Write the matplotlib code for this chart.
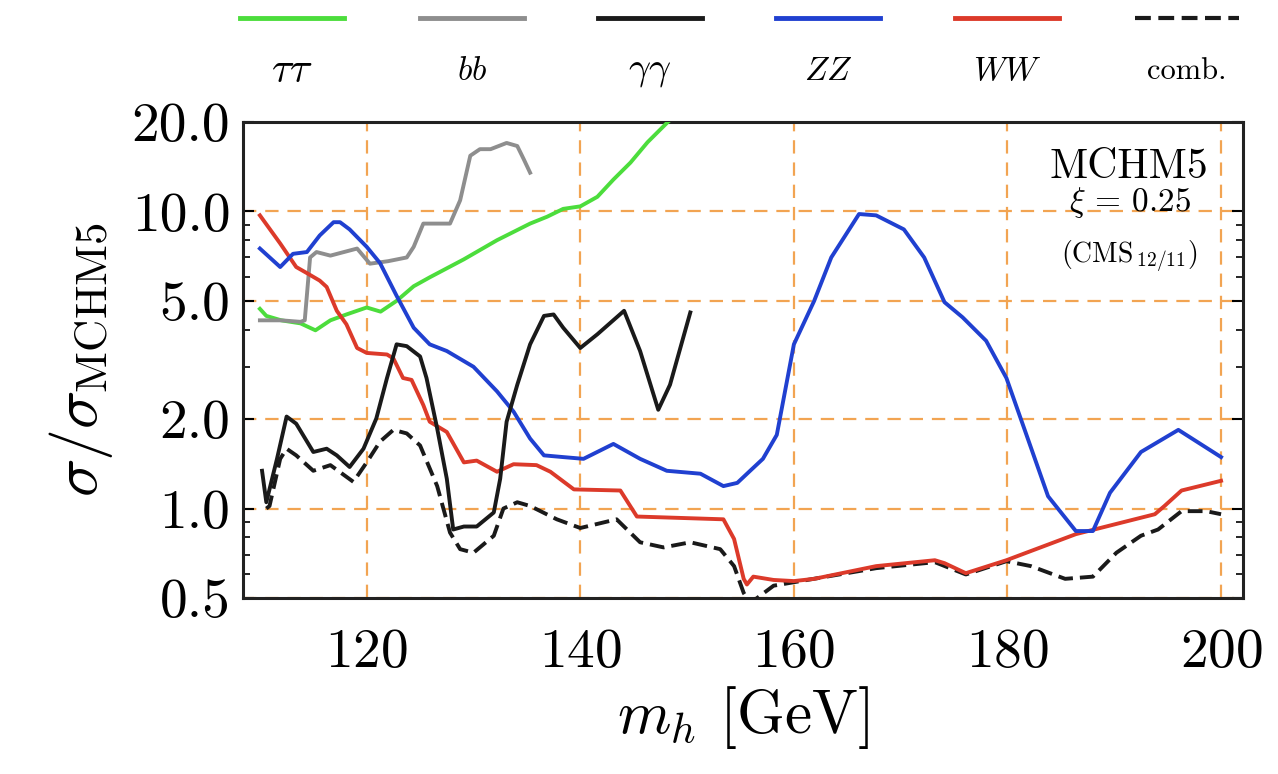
import numpy as np
import matplotlib.pyplot as plt
from matplotlib.lines import Line2D
from matplotlib.ticker import FixedLocator, LogLocator, FormatStrFormatter, NullFormatter

plt.rcParams['font.family'] = 'serif'
plt.rcParams['font.serif'] = ['cmr10', 'DejaVu Serif']
plt.rcParams['mathtext.fontset'] = 'cm'
plt.rcParams['axes.formatter.use_mathtext'] = True
plt.rcParams['lines.solid_joinstyle'] = 'round'

# values (m_h in GeV, ratio sigma/sigma_MCHM5)
tautau_m = [110.0, 110.6, 112.0, 113.8, 115.2, 116.6, 118.1, 120.0, 121.3, 122.8, 124.4, 125.9,
            129.1, 132.2, 135.3, 136.9, 138.4, 140.0, 141.6, 143.1, 144.7, 146.3, 148.2, 149.5]
tautau_r = [4.70, 4.45, 4.30, 4.20, 3.98, 4.30, 4.50, 4.75, 4.60, 5.00, 5.60, 6.00,
            6.90, 8.00, 9.10, 9.60, 10.2, 10.4, 11.2, 12.8, 14.6, 17.1, 20.0, 22.0]

bb_m = [110.0, 112.0, 113.8, 114.2, 114.7, 115.3, 116.6, 119.1, 120.3, 122.0, 123.75,
        124.4, 125.3, 127.8, 128.75, 129.7, 130.6, 131.6, 133.1, 134.1, 134.7, 135.3]
bb_r = [4.30, 4.30, 4.25, 4.30, 7.0, 7.3, 7.1, 7.5, 6.67, 6.8, 7.0,
        7.6, 9.1, 9.1, 10.9, 15.4, 16.2, 16.2, 17.0, 16.6, 15.0, 13.5]

aa_m = [110.2, 110.6, 111.6, 112.5, 113.4, 115.0, 116.25, 117.2, 118.4, 119.7, 120.9, 121.9,
        122.8, 123.75, 125.0, 125.6, 126.6, 127.5, 128.1, 129.1, 130.3, 131.9, 132.5, 133.1,
        134.1, 135.3, 136.6, 137.5, 138.4, 140.0, 141.6, 144.1, 145.6, 147.3, 148.4, 150.3]
aa_r = [1.34, 1.05, 1.47, 2.04, 1.93, 1.55, 1.59, 1.51, 1.38, 1.59, 2.01, 2.75,
        3.57, 3.52, 3.25, 2.75, 1.86, 1.26, 0.85, 0.87, 0.87, 0.97, 1.26, 1.96,
        2.61, 3.57, 4.45, 4.50, 4.06, 3.47, 3.86, 4.63, 3.39, 2.15, 2.61, 4.57]

zz_m = [110.0, 111.9, 113.1, 114.4, 115.6, 116.9, 117.5, 118.4, 120.0, 121.25, 122.8, 124.4,
        125.9, 127.5, 130.0, 132.2, 133.75, 135.3, 136.6, 138.4, 140.3, 143.1, 145.6, 148.1,
        151.25, 153.4, 154.7, 156.0, 157.1, 158.4, 160.0, 161.9, 163.5, 166.1, 167.7, 170.3,
        172.2, 174.1, 175.8, 178.0, 179.9, 181.9, 183.8, 186.4, 188.0, 189.6, 192.5, 196.0, 200.0]
zz_r = [7.5, 6.5, 7.2, 7.3, 8.3, 9.2, 9.2, 8.7, 7.6, 6.7, 5.2, 4.06,
        3.57, 3.39, 3.0, 2.48, 2.12, 1.72, 1.51, 1.49, 1.47, 1.65, 1.47, 1.34,
        1.31, 1.19, 1.22, 1.35, 1.47, 1.77, 3.57, 5.0, 7.0, 9.8, 9.7, 8.7,
        7.0, 4.95, 4.4, 3.67, 2.75, 1.72, 1.10, 0.84, 0.84, 1.13, 1.55, 1.84, 1.49]

ww_m = [110.0, 111.9, 113.4, 114.4, 115.6, 116.25, 117.2, 118.1, 119.1, 120.0, 121.9, 122.5,
        123.4, 124.2, 125.3, 125.9, 127.5, 129.1, 130.3, 132.2, 133.75, 135.9, 137.2, 139.4,
        143.75, 145.3, 153.4, 154.4, 155.3, 155.6, 156.2, 158.1, 160.0, 161.9, 167.7, 173.2,
        174.1, 176.1, 179.9, 186.4, 193.8, 194.7, 196.3, 200.0]
ww_r = [9.7, 7.8, 6.5, 6.2, 5.85, 5.57, 4.63, 4.17, 3.47, 3.34, 3.30, 3.2,
        2.75, 2.71, 2.23, 1.96, 1.81, 1.43, 1.45, 1.33, 1.41, 1.40, 1.33, 1.16,
        1.15, 0.94, 0.92, 0.79, 0.58, 0.555, 0.59, 0.575, 0.57, 0.58, 0.64, 0.67,
        0.655, 0.606, 0.67, 0.82, 0.957, 1.02, 1.15, 1.24]

comb_m = [110.6, 110.9, 111.9, 112.5, 113.4, 115.0, 116.6, 118.75, 120.0, 121.25, 122.5, 123.75,
          125.0, 126.6, 127.8, 128.75, 130.0, 131.9, 132.8, 134.1, 135.3, 137.8, 140.0, 143.4,
          145.6, 147.8, 150.3, 153.1, 154.4, 155.3, 155.9, 158.1, 160.0, 167.7, 173.2, 176.1,
          179.9, 182.2, 185.4, 188.0, 190.2, 192.5, 194.1, 196.3, 198.6, 200.0]
comb_r = [1.0, 1.02, 1.47, 1.59, 1.51, 1.34, 1.40, 1.23, 1.43, 1.68, 1.84, 1.79,
          1.63, 1.19, 0.83, 0.73, 0.71, 0.81, 1.0, 1.05, 1.02, 0.92, 0.86, 0.92,
          0.77, 0.74, 0.77, 0.73, 0.64, 0.52, 0.48, 0.55, 0.565, 0.63, 0.66, 0.60,
          0.665, 0.64, 0.58, 0.59, 0.71, 0.81, 0.85, 0.98, 0.98, 0.957]

labels = [r'$\tau\tau$', r'$bb$', r'$\gamma\gamma$', r'$ZZ$', r'$WW$', 'comb.']
label_sizes = [30, 24, 28, 24, 24, 22]
colors = ['#4cdd3c', '#8e8e8e', '#1a1a1a', '#2040d0', '#dc3a2a', '#1a1a1a']
styles = ['-', '-', '-', '-', '-', (0, (3.8, 1.8))]

yticks = [0.5, 1.0, 2.0, 5.0, 10.0, 20.0]
xticks = [120, 140, 160, 180, 200]

grid_c = '#f2a452'
lw = 2.8

fig = plt.figure(figsize=(12.78, 7.74), dpi=100)
ax = fig.add_axes([0.190, 0.2274, 0.783, 0.615])

ax.plot(comb_m, comb_r, color=colors[5], ls=styles[5], lw=lw, zorder=3)
ax.plot(tautau_m, tautau_r, color=colors[0], lw=lw, zorder=3)
ax.plot(bb_m, bb_r, color=colors[1], lw=lw, zorder=3)
ax.plot(ww_m, ww_r, color=colors[4], lw=lw, zorder=4)
ax.plot(zz_m, zz_r, color=colors[3], lw=lw, zorder=4)
ax.plot(aa_m, aa_r, color=colors[2], lw=lw, zorder=5)

ax.set_yscale('log')
ax.set_xlim(108.4, 202.1)
ax.set_ylim(0.5, 20.0)

ax.yaxis.set_major_locator(FixedLocator(yticks))
ax.yaxis.set_major_formatter(FormatStrFormatter('%.1f'))
ax.yaxis.set_minor_locator(LogLocator(base=10, subs=np.arange(2, 10)))
ax.yaxis.set_minor_formatter(NullFormatter())
ax.xaxis.set_major_locator(FixedLocator(xticks))

ax.grid(True, which='major', color=grid_c, ls=(0, (6, 4)), lw=1.6, zorder=1)

ax.tick_params(axis='y', which='major', direction='in', length=8, width=1.5,
               right=True, labelsize=40, pad=9)
ax.tick_params(axis='y', which='minor', direction='in', length=5, width=1.2, right=True)
ax.tick_params(axis='x', which='major', length=0, labelsize=40, pad=22)

for sp in ax.spines.values():
    sp.set_linewidth(2.2)
    sp.set_color('#222222')

ax.set_xlabel(r'$m_h$ [GeV]', fontsize=44, labelpad=4)
ax.set_ylabel(r'$\sigma/\sigma_{\mathrm{MCHM5}}$', fontsize=46, labelpad=12)

ax.text(0.885, 0.905, 'MCHM5', transform=ax.transAxes, ha='center', va='center', fontsize=30)
ax.text(0.887, 0.83, r'$\xi$ = 0.25', transform=ax.transAxes, ha='center', va='center', fontsize=24)
ax.text(0.886, 0.718, r'(CMS$_{\,12/11}$)', transform=ax.transAxes, ha='center', va='center',
        fontsize=20)

# legend drawn above the axes: short line, label underneath
leg_x0 = [240, 420, 598, 776, 955, 1135]
for i in range(6):
    x0 = leg_x0[i] / 1278
    x1 = (leg_x0[i] + 104) / 1278
    fig.add_artist(Line2D([x0, x1], [0.977, 0.977], color=colors[i], ls=styles[i],
                          lw=3.5 if i < 5 else 3.0, transform=fig.transFigure))
    fig.text((x0 + x1) / 2, 0.908, labels[i], ha='center', va='center', fontsize=label_sizes[i])

fig.savefig('out.png', dpi=100)
